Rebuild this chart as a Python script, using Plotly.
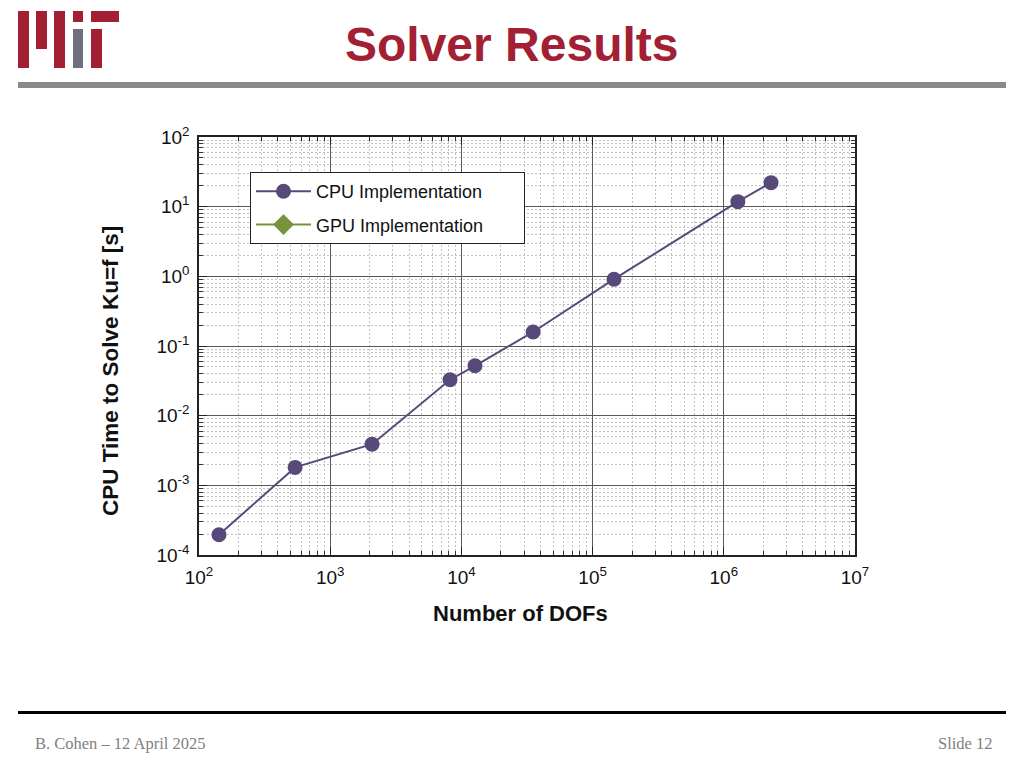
import plotly.graph_objects as go

# Data
cpu_dofs = [142, 540, 2085, 8190, 12700, 35200, 145600, 1280000, 2290000]
cpu_time = [1.95e-4, 1.81e-3, 3.9e-3, 3.28e-2, 5.2e-2, 0.159, 0.91, 11.8, 22.1]
gpu_dofs = [None]
gpu_time = [None]

x_exps = [2, 3, 4, 5, 6, 7]
y_exps = [-4, -3, -2, -1, 0, 1, 2]

title_text = "Solver Results"
x_label = "Number of DOFs"
y_label = "CPU Time to Solve Ku=f [s]"
footer_left = "B. Cohen \u2013 12 April 2025"
footer_right = "Slide 12"

MIT_RED = "#A31F34"
MIT_GRAY = "#6E6F7F"
CPU_COLOR = "#574A7B"
GPU_COLOR = "#77933C"
FONT = "Liberation Sans, Arial, Helvetica, sans-serif"

# page offset (body margin) and plot box in screen pixels
OFF = 8
PL, PR, PT, PB = 199, 855, 137, 555
W, H = 1024 - OFF, 768 - OFF
PW, PH = PR - PL, PB - PT

def px(x):
    return (x - PL) / PW

def py(y):
    return (PB - y) / PH

PAD = "\u00a0" * 7

fig = go.Figure()
fig.add_trace(go.Scatter(
    x=cpu_dofs, y=cpu_time, mode="lines+markers", name="CPU Implementation" + PAD,
    legendgroup="cpu",
    line=dict(color=CPU_COLOR, width=2),
    marker=dict(symbol="circle", size=15, color=CPU_COLOR),
))
fig.add_trace(go.Scatter(
    x=gpu_dofs, y=gpu_time, mode="lines+markers", name="GPU Implementation" + PAD,
    legendgroup="gpu",
    line=dict(color=GPU_COLOR, width=2),
    marker=dict(symbol="diamond", size=16, color=GPU_COLOR),
))

def pow_labels(exps):
    return [10 ** e for e in exps], ["10<sup>%d</sup>" % e for e in exps]

xv, xt = pow_labels(x_exps)
yv, yt = pow_labels(y_exps)

axis_common = dict(
    type="log", showline=True, linecolor="#222", linewidth=1.5, mirror="allticks",
    ticks="inside", ticklen=8, tickcolor="#222",
    showgrid=True, gridcolor="#5a5a5a", gridwidth=1,
    tickfont=dict(family=FONT, size=19, color="#111"),
    zeroline=False,
    minor=dict(dtick="D1", ticks="inside", ticklen=4, tickcolor="#333", showgrid=True,
               gridcolor="#c0c0c0", griddash="2px,2px", gridwidth=1),
)

fig.update_xaxes(range=[2, 7], tickvals=xv, ticktext=xt, ticklabelstandoff=4,
                 **axis_common)
fig.update_yaxes(range=[-4, 2], tickvals=yv, ticktext=yt, ticklabelstandoff=4,
                 **axis_common)

fig.update_layout(
    width=W, height=H,
    margin=dict(l=PL - OFF, r=W - (PR - OFF), t=PT - OFF, b=H - (PB - OFF)),
    paper_bgcolor="white", plot_bgcolor="white",
    font=dict(family=FONT),
    showlegend=True,
    legend=dict(x=px(250), y=py(172), xanchor="left", yanchor="top",
                bgcolor="white", bordercolor="#222", borderwidth=1,
                font=dict(family=FONT, size=18, color="#111"),
                itemwidth=55, tracegroupgap=7),
)

# Axis titles
fig.add_annotation(text="<b>%s</b>" % x_label, xref="paper", yref="paper",
                   x=px(520), y=py(613), xanchor="center", yanchor="middle",
                   showarrow=False, font=dict(family=FONT, size=22, color="#111"))
fig.add_annotation(text="<b>%s</b>" % y_label, xref="paper", yref="paper",
                   x=px(110), y=py(371), xanchor="center", yanchor="middle", textangle=-90,
                   showarrow=False, font=dict(family=FONT, size=22.5, color="#111"))

# Title
fig.add_annotation(text="<b>%s</b>" % title_text, xref="paper", yref="paper",
                   x=px(511), y=py(45), xanchor="center", yanchor="middle",
                   showarrow=False, font=dict(family=FONT, size=48, color=MIT_RED))

def px_rect(x0, y0, x1, y1, color):
    fig.add_shape(type="rect", xref="paper", yref="paper",
                  x0=px(x0), x1=px(x1), y0=py(y1), y1=py(y0),
                  fillcolor=color, line=dict(width=0), layer="above")

px_rect(18, 11, 29, 68, MIT_RED)
px_rect(36, 11, 47, 49, MIT_RED)
px_rect(54, 11, 65, 68, MIT_RED)
px_rect(73, 11, 83, 22, MIT_RED)
px_rect(73, 29, 83, 68, MIT_GRAY)
px_rect(91, 11, 119, 22, MIT_RED)
px_rect(91, 29, 102, 68, MIT_RED)
px_rect(18, 82, 1006, 88, "#8a8a8a")
px_rect(18, 711, 1006, 714, "#000000")

fig.add_annotation(text=footer_left, xref="paper", yref="paper",
                   x=px(33), y=py(743), xanchor="left", yanchor="middle",
                   showarrow=False, font=dict(family="Liberation Serif, Times New Roman, serif", size=16.5, color="#808080"))
fig.add_annotation(text=footer_right, xref="paper", yref="paper",
                   x=px(995), y=py(743), xanchor="right", yanchor="middle",
                   showarrow=False, font=dict(family="Liberation Serif, Times New Roman, serif", size=16.5, color="#808080"))

fig.write_html("out.html")
